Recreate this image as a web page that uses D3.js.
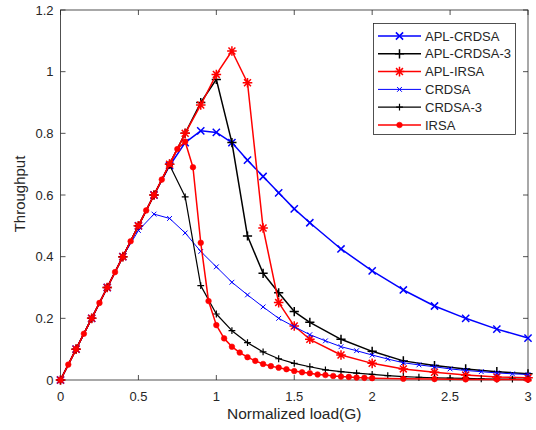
<!DOCTYPE html>
<html><head><meta charset="utf-8">
<script src="https://cdn.jsdelivr.net/npm/d3@7"></script>
<style>body{margin:0;background:#fff}svg{display:block}text{font-family:"Liberation Sans",Arial,sans-serif;fill:#262626}</style>
</head><body><svg id="c" width="536" height="430"></svg>
<script>
const xTicks = [0, 0.5, 1, 1.5, 2, 2.5, 3];
const yTicks = [0, 0.2, 0.4, 0.6, 0.8, 1, 1.2];
const xAPL = [0,0.1,0.2,0.3,0.4,0.5,0.6,0.7,0.8,0.9,1.0,1.1,1.2,1.3,1.4,1.5,1.6,1.8,2.0,2.2,2.4,2.6,2.8,3.0];
const aplCrdsa = [0,0.1,0.2,0.3,0.4,0.5,0.6,0.695,0.77,0.808,0.803,0.77,0.713,0.66,0.607,0.555,0.51,0.425,0.354,0.292,0.24,0.2,0.165,0.136];
const aplCrdsa3 = [0,0.1,0.2,0.3,0.4,0.5,0.6,0.7,0.8,0.9,0.975,0.77,0.467,0.346,0.283,0.222,0.187,0.132,0.093,0.062,0.047,0.036,0.027,0.02];
const aplIrsa = [0,0.1,0.2,0.3,0.4,0.5,0.6,0.7,0.8,0.892,0.991,1.067,0.964,0.493,0.251,0.175,0.132,0.081,0.054,0.036,0.025,0.016,0.01,0.007];
const xC = [0,0.1,0.2,0.3,0.4,0.5,0.6,0.7,0.8,0.9,1.0,1.1,1.2,1.3,1.4,1.5,1.6,1.7,1.8,1.9,2.0,2.1,2.2,2.3,2.4,2.5,2.6,2.7,2.8,2.9,3.0];
const crdsa = [0,0.1,0.2,0.3,0.4,0.485,0.538,0.524,0.477,0.417,0.367,0.317,0.276,0.237,0.2,0.173,0.147,0.127,0.108,0.095,0.081,0.068,0.056,0.049,0.043,0.036,0.031,0.027,0.023,0.02,0.018];
const crdsa3 = [0,0.1,0.2,0.3,0.4,0.5,0.6,0.697,0.594,0.306,0.214,0.16,0.121,0.091,0.069,0.054,0.043,0.033,0.027,0.022,0.018,0.014,0.011,0.009,0.007,0.006,0.005,0.004,0.003,0.003,0.002];
const xI = [0,0.05,0.1,0.15,0.2,0.25,0.3,0.35,0.4,0.45,0.5,0.55,0.6,0.65,0.7,0.75,0.8,0.85,0.9,0.95,1.0,1.05,1.1,1.15,1.2,1.25,1.3,1.35,1.4,1.45,1.5,1.55,1.6,1.65,1.7,1.75,1.8,1.85,1.9,1.95,2.0,2.2,2.4,2.6,2.8,3.0];
const irsa = [0,0.05,0.1,0.15,0.2,0.25,0.3,0.35,0.4,0.45,0.5,0.55,0.6,0.65,0.7,0.749,0.773,0.69,0.445,0.256,0.178,0.135,0.108,0.089,0.074,0.062,0.052,0.045,0.04,0.035,0.029,0.025,0.022,0.018,0.016,0.013,0.011,0.01,0.008,0.007,0.006,0.004,0.003,0.002,0.002,0.001];

const series = [
  {name:"APL-CRDSA", x:xAPL, y:aplCrdsa, color:"#0000ff", w:1.5, marker:"x", ms:3.6},
  {name:"APL-CRDSA-3", x:xAPL, y:aplCrdsa3, color:"#000000", w:1.5, marker:"+", ms:4.6},
  {name:"APL-IRSA", x:xAPL, y:aplIrsa, color:"#ff0000", w:1.5, marker:"*", ms:4.8},
  {name:"CRDSA", x:xC, y:crdsa, color:"#0000ff", w:1, marker:"x", ms:2.4},
  {name:"CRDSA-3", x:xC, y:crdsa3, color:"#000000", w:1.2, marker:"+", ms:3.4},
  {name:"IRSA", x:xI, y:irsa, color:"#ff0000", w:1.5, marker:"o", ms:2.8}
];

const L = 60.5, R = 528, T = 10, B = 380;
const svg = d3.select("#c");
const xs = d3.scaleLinear().domain([0,3]).range([L,R]);
const ys = d3.scaleLinear().domain([0,1.2]).range([B,T]);

// axes
const ax = svg.append("g").attr("stroke","#262626").attr("stroke-width",0.8).attr("fill","none");
ax.append("rect").attr("x",L).attr("y",T).attr("width",R-L).attr("height",B-T);
xTicks.forEach(t=>{
  const x = xs(t);
  ax.append("line").attr("x1",x).attr("x2",x).attr("y1",B).attr("y2",B-5);
  ax.append("line").attr("x1",x).attr("x2",x).attr("y1",T).attr("y2",T+5);
  svg.append("text").attr("x",x).attr("y",B+21).attr("text-anchor","middle").attr("font-size",13).text(d3.format("")(t));
});
yTicks.forEach(t=>{
  const y = ys(t);
  ax.append("line").attr("x1",L).attr("x2",L+5).attr("y1",y).attr("y2",y);
  ax.append("line").attr("x1",R).attr("x2",R-5).attr("y1",y).attr("y2",y);
  svg.append("text").attr("x",L-7).attr("y",y+4.5).attr("text-anchor","end").attr("font-size",13).text(d3.format("")(t));
});
svg.append("text").attr("x",(L+R)/2).attr("y",419).attr("text-anchor","middle").attr("font-size",15.5).text("Normalized load(G)");
svg.append("text").attr("transform","translate(25,194) rotate(-90)").attr("text-anchor","middle").attr("font-size",15).text("Throughput");

function drawMarker(g, cx, cy, s){
  const m = s.ms;
  if (s.marker==="x"){
    g.append("path").attr("d",`M${cx-m},${cy-m}L${cx+m},${cy+m}M${cx-m},${cy+m}L${cx+m},${cy-m}`).attr("stroke",s.color).attr("stroke-width",s.w).attr("fill","none");
  } else if (s.marker==="+"){
    g.append("path").attr("d",`M${cx-m},${cy}L${cx+m},${cy}M${cx},${cy-m}L${cx},${cy+m}`).attr("stroke",s.color).attr("stroke-width",s.w).attr("fill","none");
  } else if (s.marker==="*"){
    const d = m*0.72;
    g.append("path").attr("d",`M${cx-m},${cy}L${cx+m},${cy}M${cx},${cy-m}L${cx},${cy+m}M${cx-d},${cy-d}L${cx+d},${cy+d}M${cx-d},${cy+d}L${cx+d},${cy-d}`).attr("stroke",s.color).attr("stroke-width",s.w).attr("fill","none");
  } else {
    g.append("circle").attr("cx",cx).attr("cy",cy).attr("r",m).attr("fill",s.color).attr("stroke",s.color).attr("stroke-width",0.6);
  }
}

const plot = svg.append("g");
const line = d3.line();
series.forEach(s=>{
  const pts = s.x.map((v,i)=>[xs(v), ys(s.y[i])]);
  const g = plot.append("g");
  g.append("path").attr("d",line(pts)).attr("fill","none").attr("stroke",s.color).attr("stroke-width",s.w).attr("stroke-linejoin","round");
  pts.forEach(p=>drawMarker(g,p[0],p[1],s));
});

// legend
const lg = svg.append("g");
lg.append("rect").attr("x",373.5).attr("y",23.5).attr("width",142).attr("height",111).attr("fill","#fff").attr("stroke","#262626").attr("stroke-width",0.8);
series.forEach((s,i)=>{
  const y = 36 + i*17.8;
  lg.append("line").attr("x1",378).attr("x2",421).attr("y1",y).attr("y2",y).attr("stroke",s.color).attr("stroke-width",s.w);
  drawMarker(lg, 399.5, y, s);
  lg.append("text").attr("x",425).attr("y",y+4.5).attr("font-size",13).text(s.name);
});
</script></body></html>
